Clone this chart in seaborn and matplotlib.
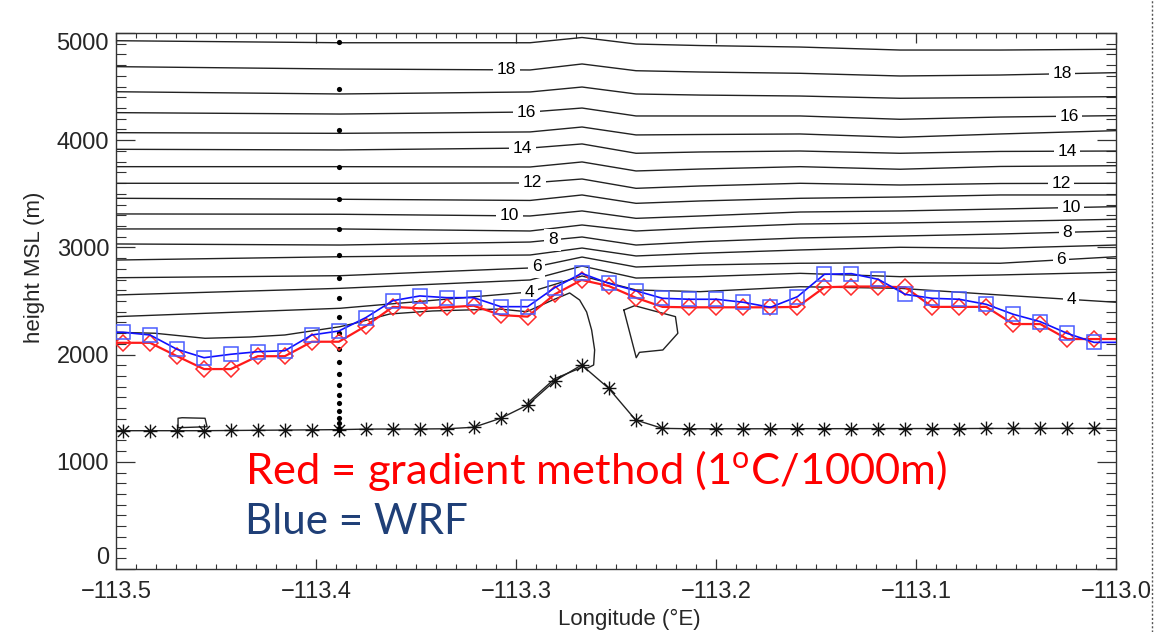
import numpy as np
import matplotlib
matplotlib.use("Agg")
import matplotlib.pyplot as plt
from matplotlib.path import Path
from matplotlib.lines import Line2D
from matplotlib.ticker import MultipleLocator, FixedLocator, FuncFormatter
import seaborn as sns

# ---------------------------------------------------------------- data
# model grid columns along the cross-section (deg E)
lon = [-113.4965, -113.4830, -113.4695, -113.4560, -113.4426, -113.4291,
       -113.4156, -113.4021, -113.3886, -113.3751, -113.3616, -113.3481,
       -113.3347, -113.3212, -113.3077, -113.2942, -113.2807, -113.2672,
       -113.2537, -113.2402, -113.2268, -113.2133, -113.1998, -113.1863,
       -113.1728, -113.1593, -113.1458, -113.1323, -113.1189, -113.1054,
       -113.0919, -113.0784, -113.0649, -113.0514, -113.0379, -113.0244,
       -113.0110]
# neighbouring columns just outside the plotted window
lon_west, lon_east = -113.5100, -112.9975

terrain = [1290, 1290, 1290, 1290, 1292, 1294, 1296, 1298, 1300, 1305,
           1306, 1306, 1308, 1322, 1406, 1530, 1754, 1903, 1686, 1390,
           1312, 1308, 1308, 1308, 1308, 1309, 1309, 1309, 1310, 1310,
           1310, 1310, 1311, 1311, 1311, 1312, 1312]

wrf_top = [2208, 2183, 2049, 1971, 2003, 2027, 2036, 2183, 2220, 2345,
           2503, 2547, 2531, 2531, 2447, 2447, 2624, 2758, 2665, 2596,
           2525, 2516, 2516, 2488, 2441, 2540, 2749, 2755, 2702, 2562,
           2525, 2516, 2469, 2376, 2307, 2198, 2114]

gradient_top = [2110, 2110, 1985, 1865, 1865, 1985, 1985, 2120, 2120, 2267,
                2445, 2432, 2441, 2456, 2369, 2354, 2562, 2696, 2640, 2531,
                2445, 2441, 2441, 2441, 2441, 2445, 2628, 2635, 2635, 2628,
                2445, 2445, 2445, 2285, 2285, 2145, 2145]

# model levels of the sounding column at -113.3886
level_lon = -113.3886
level_heights = [4916, 4480, 4095, 3753, 3449, 3174, 2929, 2712, 2525, 2348,
                 2204, 2052, 1928, 1819, 1716, 1623, 1546, 1477, 1411, 1359,
                 1318, 1300]

# isotherm heights (m) at these longitudes
iso_lon = [-113.500, -113.388, -113.293, -113.267, -113.240, -113.208,
           -113.158, -113.108, -113.058, -113.000]
iso4 = [2354, 2432, 2584, 2733, 2603, 2587, 2633, 2618, 2556, 2488]
iso5 = [2556, 2618, 2696, 2826, 2714, 2727, 2758, 2727, 2743, 2768]
iso6 = [2717, 2736, 2808, 2910, 2817, 2836, 2852, 2857, 2852, 2913]
iso7 = [2882, 2913, 2929, 2994, 2920, 2945, 2976, 3001, 2992, 3022]
iso8 = [3032, 3022, 3050, 3097, 3022, 3053, 3088, 3106, 3125, 3153]
iso9 = [3172, 3172, 3153, 3209, 3153, 3181, 3218, 3228, 3242, 3262]
iso10 = [3312, 3309, 3293, 3340, 3271, 3293, 3330, 3340, 3358, 3380]
iso11 = [3458, 3449, 3438, 3489, 3411, 3433, 3458, 3470, 3489, 3489]
iso12 = [3598, 3598, 3601, 3638, 3551, 3573, 3598, 3582, 3596, 3598]
iso13 = [3753, 3753, 3750, 3797, 3713, 3731, 3753, 3729, 3755, 3762]
iso14 = [3915, 3909, 3927, 3965, 3878, 3890, 3899, 3878, 3895, 3899]
iso15 = [4070, 4064, 4077, 4123, 4049, 4053, 4058, 4027, 4058, 4089]
iso16 = [4257, 4244, 4263, 4300, 4226, 4226, 4226, 4195, 4216, 4229]
iso17 = [4452, 4431, 4450, 4496, 4431, 4421, 4412, 4391, 4398, 4406]
iso18 = [4686, 4664, 4655, 4711, 4648, 4636, 4624, 4599, 4608, 4630]
iso19 = [4928, 4909, 4909, 4958, 4897, 4883, 4869, 4841, 4841, 4848]

# the 3-degree isotherm: west part, folding down onto the summit
iso3_lon = [-113.5000, -113.4805, -113.4555, -113.4331, -113.4156, -113.3881,
            -113.3806, -113.3631, -113.3417, -113.3082, -113.2947, -113.2817,
            -113.2732, -113.2682, -113.2647, -113.2622, -113.2607, -113.2612,
            -113.2642, -113.2667, -113.2807, -113.2942]
iso3_h = [2208, 2199, 2152, 2164, 2183, 2260, 2292, 2379, 2407, 2425, 2400,
          2509, 2575, 2509, 2397, 2229, 2043, 1903, 1875, 1884, 1775, 1548]
# closed 3-degree pocket east of the summit
pocket_lon = [-113.2461, -113.2407, -113.2203, -113.2191, -113.2266,
              -113.2383, -113.2399, -113.2461]
pocket_h = [2416, 2456, 2354, 2199, 2043, 2021, 1971, 2416]
# small closed contour near the western valley floor
notch_lon = [-113.4690, -113.4690, -113.4670, -113.4555, -113.4545, -113.4690]
notch_h = [1318, 1406, 1411, 1406, 1327, 1318]

label_levels = [4, 6, 8, 10, 12, 14, 16, 18]
label_lon_west = [-113.2932, -113.2897, -113.2817, -113.3032, -113.2917,
                  -113.2967, -113.2947, -113.3047]
label_lon_east = [-113.0225, -113.0275, -113.0245, -113.0225, -113.0275,
                  -113.0245, -113.0235, -113.0270]

height_ticks = [0, 1000, 2000, 3000, 4000, 5000]
lon_ticks = [-113.5, -113.4, -113.3, -113.2, -113.1, -113.0]

# ---------------------------------------------------------------- style
sns.set_style("ticks")
plt.rcParams["font.family"] = ["Liberation Sans", "DejaVu Sans"]
plt.rcParams["mathtext.fontset"] = "custom"
plt.rcParams["mathtext.rm"] = "Lato"
plt.rcParams["mathtext.it"] = "Lato:italic"
plt.rcParams["mathtext.bf"] = "Lato:bold"

fig = plt.figure(figsize=(11.57, 6.32), dpi=100)
ax = fig.add_axes([0.1003, 0.0997, 0.8643, 0.8481])

# asterisk marker: plus and cross
ast = Path([(-1, -1), (1, 1), (-1, 1), (1, -1), (0, -1.25), (0, 1.25),
            (-1.25, 0), (1.25, 0)],
           [Path.MOVETO, Path.LINETO] * 4)

isolines = {4: iso4, 5: iso5, 6: iso6, 7: iso7, 8: iso8, 9: iso9,
            10: iso10, 11: iso11, 12: iso12, 13: iso13, 14: iso14,
            15: iso15, 16: iso16, 17: iso17, 18: iso18, 19: iso19}

line_kw = dict(color="#222222", linewidth=1.0, estimator=None, sort=False,
               legend=False, ax=ax, zorder=1)
for lev, heights in isolines.items():
    sns.lineplot(x=iso_lon, y=heights, **line_kw)
sns.lineplot(x=iso3_lon, y=iso3_h, **line_kw)
sns.lineplot(x=pocket_lon, y=pocket_h, **line_kw)
sns.lineplot(x=notch_lon, y=notch_h, **line_kw)

# inline isotherm labels
for lev, lw_, le_ in zip(label_levels, label_lon_west, label_lon_east):
    for xl in (lw_, le_):
        yl = np.interp(xl, iso_lon, isolines[lev])
        ax.text(xl, yl, str(lev), ha="center", va="center", fontsize=12.5,
                color="black", zorder=2,
                bbox=dict(boxstyle="square,pad=0.2", fc="white", ec="none"))

# terrain
sns.lineplot(x=[lon_west] + lon + [lon_east],
             y=[terrain[0]] + terrain + [terrain[-1]],
             color="#222222", linewidth=1.0, estimator=None, legend=False,
             ax=ax, zorder=3)
sns.lineplot(x=lon, y=terrain, color="black", linewidth=0, marker=ast,
             markersize=10, markeredgewidth=1.0, markeredgecolor="#111111",
             estimator=None, legend=False, ax=ax, zorder=4)

# model level column
sns.scatterplot(x=[level_lon] * len(level_heights), y=level_heights,
                color="black", s=14, linewidth=0, legend=False, ax=ax,
                zorder=5)

# gradient method (red) and WRF (blue)
sns.lineplot(x=[lon_west] + lon + [lon_east],
             y=[gradient_top[0]] + gradient_top + [gradient_top[-1]],
             color="#ff1a1a", linewidth=1.6, estimator=None, legend=False,
             ax=ax, zorder=6)
sns.lineplot(x=lon, y=gradient_top, color="#ff1a1a", linewidth=0,
             marker="D", markersize=8, markerfacecolor="none",
             markeredgecolor="#ff2a2a", markeredgewidth=1.1,
             estimator=None, legend=False, ax=ax, zorder=7)
sns.lineplot(x=[lon_west] + lon + [lon_east],
             y=[wrf_top[0]] + wrf_top + [wrf_top[-1]],
             color="#1010ff", linewidth=1.2, estimator=None, legend=False,
             ax=ax, zorder=8)
sns.lineplot(x=lon, y=wrf_top, color="#1010ff", linewidth=0,
             marker="s", markersize=9.5, markerfacecolor="none",
             markeredgecolor="#4a5cff", markeredgewidth=1.1,
             estimator=None, legend=False, ax=ax, zorder=9)

# ---------------------------------------------------------------- axes
ax.set_xlim(-113.5, -113.0)
ax.set_ylim(0, 5000)
ax.xaxis.set_major_locator(FixedLocator(lon_ticks))
ax.xaxis.set_minor_locator(MultipleLocator(0.01))
ax.yaxis.set_major_locator(FixedLocator(height_ticks))
ax.yaxis.set_minor_locator(MultipleLocator(100))
ax.xaxis.set_major_formatter(
    FuncFormatter(lambda v, p: f"{v:.1f}".replace("-", "\u2212")))
ax.yaxis.set_major_formatter(FuncFormatter(lambda v, p: f"{v:.0f}"))
ax.tick_params(axis="x", which="major", direction="in", length=7,
               width=0.9, top=True, bottom=True, labelsize=17, pad=9,
               color="#333333")
ax.tick_params(axis="x", which="minor", direction="in", length=3.6,
               width=0.8, top=True, bottom=True, color="#333333")
ax.tick_params(axis="y", which="major", direction="in", length=14,
               width=0.9, left=True, right=True, labelsize=17, pad=5,
               color="#333333")
ax.tick_params(axis="y", which="minor", direction="in", length=7,
               width=0.8, left=True, right=True, color="#333333")
for sp in ax.spines.values():
    sp.set_color("#333333")
    sp.set_linewidth(1.0)

ax.set_xlabel("Longitude (\u00b0E)", fontsize=16)
ax.set_ylabel("height MSL (m)", fontsize=16)
ax.xaxis.set_label_coords(0.513, -0.0746)
ax.yaxis.set_label_coords(-0.071, 0.563)

# keep the end labels of the height axis inside the frame
fig.canvas.draw()
for tick in ax.yaxis.get_major_ticks():
    if np.isclose(tick.get_loc(), height_ticks[0]):
        tick.label1.set_verticalalignment("bottom")
    elif np.isclose(tick.get_loc(), height_ticks[-1]):
        tick.label1.set_verticalalignment("top")

# method captions
fig.text(0.2118, 0.256, "Red = gradient method (1$^{\\mathrm{o}}$C/1000m)",
         color="#ff0000", fontsize=31.3, family="Lato", ha="left",
         va="center")
fig.text(0.2118, 0.174, "Blue = WRF", color="#1f3f77", fontsize=30.3,
         family="Lato", ha="left", va="center")

# slide divider on the right
fig.add_artist(Line2D([0.9955, 0.9955], [0.0, 1.0], transform=fig.transFigure,
                      color="#555555", linewidth=1.0, linestyle=(0, (1.5, 1.5))))

fig.savefig("out.png", dpi=100)
